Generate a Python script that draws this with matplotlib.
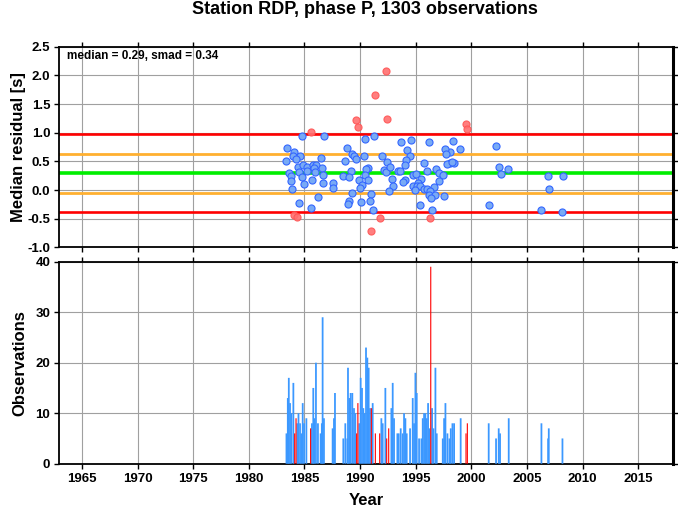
import matplotlib
matplotlib.use("Agg")
import matplotlib.pyplot as plt
import numpy as np

plt.rcParams['font.family'] = ['Liberation Sans', 'DejaVu Sans']
plt.rcParams['font.weight'] = 'bold'

title = "Station RDP, phase P, 1303 observations"
median = 0.29
smad = 0.34

# residual points (year, median residual) - inliers
blue_years = [1984.78, 1986.78, 1983.40, 1984.03, 1983.94, 1984.62, 1984.21, 1983.34, 1986.46,
              1984.44, 1984.89, 1985.20, 1985.74, 1986.03, 1985.85, 1986.55, 1983.64, 1983.76,
              1984.48, 1984.75, 1985.20, 1985.92, 1986.64, 1983.79, 1984.96, 1985.70, 1986.69,
              1987.59, 1987.59, 1983.85, 1986.24, 1984.53, 1985.58,
              1990.41, 1991.25, 1988.82, 1989.27, 1989.48, 1989.63, 1990.32, 1991.94, 1988.64,
              1990.68, 1990.56, 1989.18, 1992.12, 1992.30, 1988.46, 1989.00, 1990.47, 1989.87,
              1990.74, 1990.14, 1989.96, 1989.30, 1990.95, 1989.00, 1988.88, 1990.08, 1990.86,
              1991.16,
              1993.71, 1994.55, 1996.17, 1994.22, 1994.49, 1994.13, 1994.07, 1992.45, 1992.69,
              1993.38, 1993.59, 1995.77, 1995.99, 1996.83, 1994.73, 1995.03, 1997.12, 1992.87,
              1994.01, 1993.83, 1995.50, 1995.23, 1992.99, 1994.78, 1995.09, 1995.41, 1994.96,
              1995.75, 1995.99, 1996.65, 1992.63, 1996.29, 1996.22, 1996.71, 1996.38, 1995.41,
              1996.47,
              1998.33, 1998.06, 1997.64, 1999.01, 1997.70, 1998.06, 1998.42, 1997.79, 1998.29,
              1997.46, 1997.10, 1997.52, 2001.57,
              2002.19, 2002.49, 2002.64, 2003.33, 2006.87, 2008.25, 2006.96, 2006.27, 2008.13]
blue_res = [0.95, 0.94, 0.74, 0.67, 0.60, 0.60, 0.54, 0.51, 0.56,
            0.40, 0.43, 0.40, 0.43, 0.43, 0.38, 0.38, 0.29, 0.24,
            0.31, 0.22, 0.34, 0.32, 0.26, 0.15, 0.10, 0.17, 0.12,
            0.12, 0.03, 0.01, -0.13, -0.22, -0.32,
            0.89, 0.95, 0.73, 0.62, 0.60, 0.54, 0.59, 0.59, 0.50,
            0.39, 0.36, 0.33, 0.35, 0.32, 0.25, 0.23, 0.26, 0.17,
            0.18, 0.08, 0.04, -0.06, -0.07, -0.20, -0.24, -0.21, -0.20,
            -0.35,
            0.84, 0.87, 0.84, 0.70, 0.60, 0.52, 0.44, 0.49, 0.40,
            0.34, 0.34, 0.48, 0.34, 0.36, 0.27, 0.28, 0.29, 0.20,
            0.17, 0.14, 0.20, 0.13, 0.07, 0.07, 0.07, 0.07, 0.00,
            0.02, 0.01, 0.05, -0.02, -0.02, -0.08, -0.08, -0.14, -0.27,
            -0.35,
            0.86, 0.67, 0.71, 0.71, 0.63, 0.48, 0.47, 0.46, 0.49,
            0.27, 0.16, -0.10, -0.27,
            0.77, 0.40, 0.28, 0.37, 0.24, 0.24, 0.02, -0.35, -0.38]

# outliers
red_years = [1985.56, 1984.06, 1984.30, 1992.36, 1991.34, 1989.66, 1989.79, 1992.45,
             1991.76, 1991.01, 1996.31, 1999.50, 1999.61]
red_res = [1.02, -0.44, -0.47, 2.08, 1.66, 1.22, 1.10, 1.24,
           -0.48, -0.72, -0.48, 1.16, 1.06]

# observation counts
bar_years = [1983.38, 1983.50, 1983.59, 1983.70, 1983.82, 1984.00, 1984.36, 1984.46, 1984.60,
             1984.72, 1984.84, 1984.96, 1985.17, 1985.67, 1985.79, 1985.88, 1986.03, 1986.21,
             1986.45, 1986.56, 1986.63, 1986.75, 1987.53, 1987.65, 1987.74, 1988.49, 1988.67,
             1988.85, 1988.91, 1989.03, 1989.15, 1989.30, 1989.45, 1989.57, 1989.93, 1990.05,
             1990.17, 1990.29, 1990.41, 1990.53, 1990.65, 1990.77, 1990.89, 1991.13, 1991.91,
             1992.03, 1992.27, 1992.81, 1992.93, 1993.05, 1993.35, 1993.47, 1993.65, 1993.83,
             1993.95, 1994.07, 1994.19, 1994.49, 1994.73, 1994.85, 1994.97, 1995.09, 1995.30,
             1995.51, 1995.63, 1995.75, 1995.87, 1995.99, 1996.11, 1996.23, 1996.47, 1996.59,
             1996.77, 1996.89, 1997.43, 1997.55, 1997.67, 1997.85, 1998.03, 1998.15, 1998.30,
             1998.45, 1999.04, 2001.56, 2002.22, 2002.46, 2002.58, 2003.36, 2006.30, 2006.90,
             2006.96, 2008.19]
bar_counts = [6, 13, 17, 12, 10, 16, 8, 10, 8,
              6, 12, 8, 9, 8, 15, 9, 20, 8,
              6, 8, 29, 9, 7, 9, 14, 5, 8,
              5, 19, 13, 14, 14, 11, 10, 8, 17,
              15, 11, 10, 23, 21, 19, 11, 12, 9,
              8, 15, 11, 16, 9, 6, 6, 7, 6,
              10, 9, 6, 7, 13, 8, 18, 14, 5,
              5, 9, 10, 10, 9, 12, 7, 11, 7,
              19, 6, 5, 9, 12, 6, 5, 7, 8,
              8, 9, 8, 5, 7, 6, 9, 8, 5,
              7, 5]
red_bar_years = [1984.12, 1984.24, 1985.55, 1989.69, 1989.80, 1991.01, 1991.37, 1991.76,
                 1992.39, 1992.57, 1996.35, 1999.52, 1999.64]
red_bar_counts = [6, 9, 7, 6, 12, 11, 6, 6, 5, 7, 39, 6, 8]

year_ticks = list(range(1965, 2016, 5))
res_ticks = [2.5, 2.0, 1.5, 1.0, 0.5, 0.0, -0.5, -1.0]
obs_ticks = [0, 10, 20, 30, 40]

W, H = 678, 511
fig = plt.figure(figsize=(W / 100, H / 100), dpi=100)
left = 59.2 / W
width = (672.7 - 59.2) / W
ax1 = fig.add_axes([left, 1 - 247.3 / H, width, 200.5 / H])
ax2 = fig.add_axes([left, 1 - 463.7 / H, width, 202 / H])

grid_kw = dict(color='#a0a0a0', linewidth=0.8)
for ax in (ax1, ax2):
    ax.set_xlim(1962.95, 2018.1)
    ax.set_xticks(year_ticks)
    ax.grid(True, **grid_kw)
    ax.set_axisbelow(True)
    ax.tick_params(direction='out', length=3.5, width=1, top=True, right=True,
                   labelsize=9.5, pad=3)
    for s in ax.spines.values():
        s.set_linewidth(1.3)
    ax.spines['right'].set_linewidth(2.2)

# top panel
ax1.set_ylim(-1.0, 2.5)
ax1.set_yticks(res_ticks)
ax1.set_yticklabels([f"{v:.1f}" for v in res_ticks], fontweight='bold')
ax1.tick_params(labelbottom=False)
ax1.axhline(median + 2 * smad, color='#ff0000', lw=1.9, zorder=2)
ax1.axhline(median - 2 * smad, color='#ff0000', lw=1.9, zorder=2)
ax1.axhline(median + smad, color='#ffb030', lw=2.0, zorder=2)
ax1.axhline(median - smad, color='#ffb030', lw=2.0, zorder=2)
ax1.axhline(median, color='#00ee00', lw=2.6, zorder=2)
ax1.scatter(blue_years, blue_res, s=26, facecolor='#78aaf5', edgecolor='#3366ff',
            linewidths=0.8, zorder=4)
ax1.scatter(red_years, red_res, s=26, facecolor='#ff7070', edgecolor='#ff5555',
            linewidths=0.8, alpha=0.9, zorder=4)
ax1.text(0.012, 0.985, f"median = {median:.2f}, smad = {smad:.2f}", transform=ax1.transAxes,
         ha='left', va='top', fontsize=8.5, fontweight='bold')
ax1.set_ylabel("Median residual [s]", fontsize=12, fontweight='bold', labelpad=1)

# bottom panel
ax2.set_ylim(0, 40)
ax2.set_yticks(obs_ticks)
blue_bars = ax2.bar(bar_years, bar_counts, width=0.16, color='#3b98ff', linewidth=0, zorder=3)
red_bars = ax2.bar(red_bar_years, red_bar_counts, width=0.1, color='#ff0000', linewidth=0, zorder=4)
for p in list(blue_bars) + list(red_bars):
    p.set_snap(False)
ax2.set_ylabel("Observations", fontsize=12, fontweight='bold', labelpad=6)
ax2.set_xlabel("Year", fontsize=12, fontweight='bold', labelpad=6)
for ax in (ax1, ax2):
    for lab in ax.get_xticklabels() + ax.get_yticklabels():
        lab.set_fontweight('bold')

fig.text(365 / W, 1 - 10 / H, title, ha='center', va='center', fontsize=13, fontweight='bold')

fig.savefig("out.png", dpi=100)
